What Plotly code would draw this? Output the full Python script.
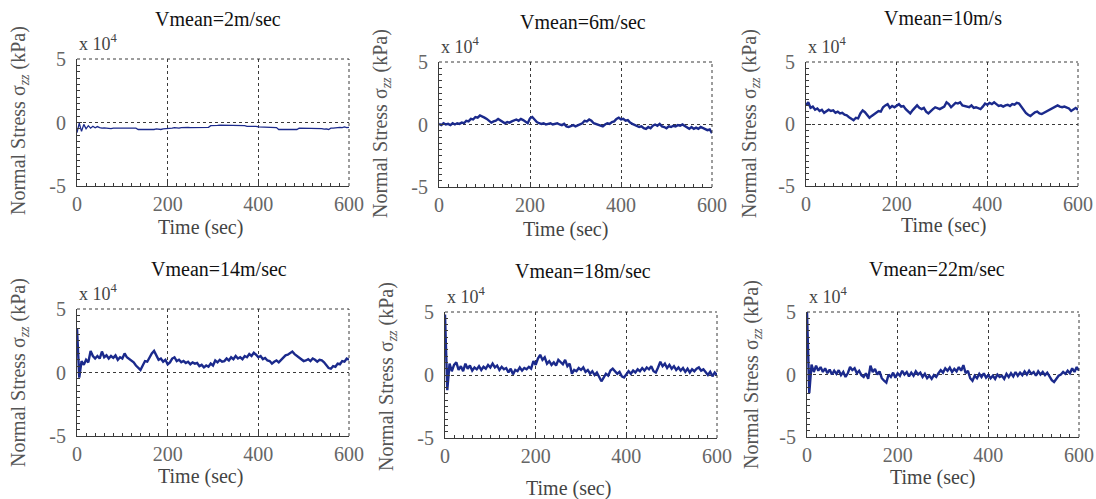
import plotly.graph_objects as go

# time grid (sec), every 5 s
time_s = list(range(0, 601, 5))

titles = ["Vmean=2m/sec", "Vmean=6m/sec", "Vmean=10m/s",
          "Vmean=14m/sec", "Vmean=18m/sec", "Vmean=22m/sec"]

# Normal stress, units of 1e4 kPa
v2 = [-0.8, -0.05, -0.7, -0.15, -0.5, -0.25, -0.45, -0.3, -0.42, -0.32,
      -0.4, -0.45, -0.42, -0.45, -0.45, -0.48, -0.45, -0.45, -0.47, -0.45, -0.46, -0.45, -0.45, -0.47, -0.45, -0.46, -0.45,
      -0.55, -0.55, -0.56, -0.55, -0.55, -0.55, -0.56, -0.55, -0.5, -0.52, -0.55, -0.5, -0.5,
      -0.45, -0.45, -0.45, -0.4, -0.45, -0.45, -0.4,
      -0.38, -0.4, -0.38, -0.4, -0.4, -0.38, -0.38, -0.4, -0.4, -0.38, -0.38, -0.38,
      -0.25, -0.22, -0.22, -0.22, -0.2, -0.2, -0.2, -0.2, -0.2, -0.2, -0.2, -0.22, -0.22, -0.2, -0.22, -0.25,
      -0.3, -0.3, -0.28, -0.3, -0.3,
      -0.35, -0.35, -0.38, -0.4, -0.38, -0.38, -0.4, -0.4, -0.4,
      -0.55, -0.55, -0.55, -0.55, -0.55, -0.55, -0.55, -0.55, -0.55,
      -0.45, -0.45, -0.45, -0.45, -0.45, -0.45, -0.45, -0.45, -0.45, -0.45,
      -0.48, -0.52, -0.5, -0.55, -0.45, -0.45,
      -0.4, -0.4, -0.38, -0.4, -0.35, -0.4, -0.38]

v6 = [0.05, -0.05, 0.1, 0.0, 0.05, -0.05, 0.1, 0.0, 0.1, 0.05,
      0.15, 0.1, 0.3, 0.25, 0.45, 0.4, 0.6, 0.55, 0.72, 0.6,
      0.55, 0.45, 0.3, 0.15, 0.25, 0.3, 0.45, 0.35, 0.2, 0.1,
      0.2, 0.15, 0.25, 0.3, 0.4, 0.3, 0.45, 0.35, 0.2, 0.1,
      0.5, 0.6, 0.4, 0.2, 0.1, 0.05, 0.1, 0.0, 0.05, 0.1,
      0.0, 0.05, 0.1, 0.0, -0.05, 0.05, -0.15, -0.2, -0.1, -0.05,
      -0.15, -0.05, 0.05, 0.1, 0.3, 0.25, 0.4, 0.3, 0.1, 0.05,
      -0.05, -0.1, -0.15, 0.0, 0.1, 0.05, 0.2, 0.25, 0.45, 0.55,
      0.4, 0.45, 0.3, 0.35, 0.15, 0.05, -0.05, -0.1, -0.2, -0.15,
      -0.3, -0.35, -0.2, -0.3, -0.1, 0.0, -0.1, 0.05, -0.15, -0.2,
      -0.3, -0.15, -0.2, -0.1, -0.15, -0.05, -0.1, 0.0, -0.1, -0.25,
      -0.35, -0.2, -0.35, -0.25, -0.35, -0.2, -0.3, -0.35, -0.45, -0.4,
      -0.7]

v10 = [1.5, 1.75, 1.3, 1.4, 1.15, 1.25, 1.05, 1.15, 0.9, 1.0,
       1.15, 1.05, 1.1, 0.9, 1.0, 0.85, 0.9, 0.75, 0.7, 0.55,
       0.45, 0.3, 0.5, 0.45, 0.85, 1.1, 0.95, 0.7, 0.5, 0.65,
       0.8, 0.9, 1.05, 1.0, 1.35, 1.5, 1.6, 1.3, 1.45, 1.35,
       1.5, 1.6, 1.4, 1.45, 1.2, 1.0, 0.85, 1.1, 1.3, 1.5,
       1.3, 1.2, 1.3, 1.0, 0.85, 1.05, 1.2, 1.35, 1.3, 1.2,
       1.3, 1.4, 1.75, 1.6, 1.35, 1.55, 1.7, 1.65, 1.75, 1.5,
       1.45, 1.4, 1.35, 1.5, 1.3, 1.35, 1.25, 1.2, 1.4, 1.65,
       1.55, 1.7, 1.6, 1.75, 1.6, 1.45, 1.5, 1.4, 1.5, 1.55,
       1.45, 1.6, 1.55, 1.7, 1.65, 1.4, 1.1, 0.9, 0.75, 0.65,
       0.8, 0.95, 1.0, 0.85, 0.8, 0.9, 1.05, 1.15, 1.2, 1.35,
       1.45, 1.5, 1.4, 1.35, 1.4, 1.3, 1.25, 1.05, 1.2, 1.3,
       1.15]

v14 = [3.5, -0.4, 0.9, 0.6, 1.0, 0.8, 1.7, 1.3, 1.1, 1.3,
       1.1, 1.65, 1.2, 1.35, 1.1, 1.3, 1.15, 1.35, 1.0, 1.2,
       1.1, 1.5, 1.2, 1.05, 0.9, 0.8, 0.55, 0.4, 0.2, 0.55,
       0.9, 0.85, 1.2, 1.5, 1.7, 1.3, 1.0, 1.1, 0.85, 1.0,
       0.65, 0.8, 1.1, 1.2, 0.9, 1.0, 0.8, 0.9, 0.75, 0.85,
       0.65, 0.8, 0.7, 0.75, 0.5, 0.6, 0.4, 0.55, 0.45, 0.7,
       0.55, 0.95, 0.8, 1.0, 0.85, 0.9, 1.1, 0.95, 1.2, 1.05,
       1.3, 1.1, 1.2, 1.05, 1.3, 1.2, 1.45, 1.3, 1.55, 1.4,
       1.2, 1.3, 1.05, 1.15, 0.95, 0.9, 0.7, 0.85, 0.95, 0.8,
       1.0, 1.2, 1.35, 1.4, 1.5, 1.65, 1.45, 1.3, 1.2, 1.05,
       0.9, 0.95, 1.05, 0.9, 1.1, 1.0, 0.85, 1.0, 0.95, 0.8,
       0.6, 0.35, 0.3, 0.5, 0.45, 0.7, 0.65, 0.9, 0.85, 1.1,
       1.0]

v18 = [4.8, -1.2, 0.9, 0.3, 0.8, 1.0, 0.4, 0.7, 0.3, 0.9,
       0.5, 0.75, 0.35, 0.6, 0.45, 0.7, 0.4, 0.65, 0.5, 0.8,
       0.6, 0.9, 0.6, 0.75, 0.4, 0.65, 0.45, 0.55, 0.2, 0.5,
       0.05, 0.4, 0.3, 0.6, 0.35, 0.55, 0.45, 0.65, 0.5, 1.1,
       0.8, 1.3, 1.6, 1.2, 1.4, 0.9, 1.1, 0.8, 1.0, 0.75,
       1.2, 1.05, 0.85, 1.2, 0.7, 0.9, 0.1, 0.4, 0.3, 0.55,
       0.4, 0.6, 0.25, 0.4, 0.1, 0.3, 0.0, 0.2, -0.1, -0.5,
       -0.2, 0.1, -0.05, 0.35, 0.5, 0.3, 0.1, 0.25, -0.1, -0.2,
       0.05, 0.3, 0.1, 0.35, 0.2, 0.45, 0.3, 0.55, 0.35, 0.6,
       0.45, 0.7, 0.3, 0.2, 0.6, 1.05, 0.7, 0.9, 0.55, 0.8,
       0.5, 0.7, 0.4, 0.6, 0.35, 0.55, 0.25, 0.5, 0.2, 0.45,
       0.3, 0.5, 0.6, 0.35, 0.45, 0.2, 0.0, 0.25, -0.1, 0.2,
       0.0]

v22 = [5.0, -1.5, 0.8, 0.2, 0.7, 0.3, 0.6, 0.2, 0.5, 0.1,
       0.4, 0.0, 0.3, 0.05, 0.35, -0.05, 0.2, -0.2, 0.1, 0.6,
       0.35, 0.5, 0.1, 0.3, -0.05, -0.2, 0.1, -0.35, 0.7, 0.2,
       0.45, 0.0, 0.25, -0.3, -0.5, -0.65, 0.0, -0.2, 0.15, -0.25,
       0.1, -0.1, 0.3, 0.0, 0.2, -0.15, 0.15, -0.1, 0.25, 0.0,
       0.15, -0.2, 0.05, -0.3, -0.1, -0.35, -0.05, -0.2, 0.1, 0.35,
       0.15, 0.5, 0.3, 0.55, 0.2, 0.45, 0.25, 0.6, 0.3, 0.75,
       0.1, 0.3, -0.3, -0.5, -0.1, -0.3, 0.05, -0.2, 0.1, -0.25,
       -0.05, -0.3, -0.1, -0.35, 0.0, -0.2, -0.1, -0.35, 0.05, -0.2,
       0.1, -0.15, 0.2, -0.1, 0.15, -0.05, 0.25, 0.0, 0.3, 0.05,
       0.2, -0.1, 0.25, 0.0, 0.2, -0.05, 0.15, -0.2, -0.45, -0.6,
       -0.3, -0.1, 0.0, 0.2, 0.05, 0.3, 0.1, 0.5, 0.2, 0.6,
       0.3]

series = [v2, v6, v10, v14, v18, v22]
for s in series:
    assert len(s) == len(time_s), len(s)

x_ticks = [0, 200, 400, 600]
x_ticktext = ["0", "200", "400", "600"]
y_ticks = [-5, 0, 5]
y_ticktext = ["-5", "0", "5"]

W, H = 1096, 499
# plot-area boxes in window pixels: (left, right, top, bottom)
boxes = [(77, 349, 59, 186), (439, 712, 62, 187), (806, 1078, 62, 186),
         (77, 349, 309, 436), (445, 717, 312, 438), (807, 1079, 312, 437)]
title_pos = [(218, 19), (583, 22), (943, 18), (219, 269), (583, 271), (937, 269)]
xlabel_pos = [(200, 227), (565, 229), (943, 225), (200, 476), (568, 488), (932, 477)]
ylabel_pos = [(19, 121), (381, 124), (750, 124), (19, 373), (387, 377), (752, 375)]

def px(x):
    return x / W

def py(y):
    return 1 - y / H

FONT = "Liberation Serif"
LINE = "#1b2a8c"
AX = "#3a3a3a"
DASH = "3px,3px"

fig = go.Figure()
annotations = []
shapes = []
layout = {}
for i, (vals, box) in enumerate(zip(series, boxes)):
    n = i + 1
    sfx = "" if n == 1 else str(n)
    l, r, t, b = box
    fig.add_trace(go.Scatter(
        x=time_s, y=vals, mode="lines",
        line=dict(color=LINE, width=1.3 if i == 0 else 2.4),
        xaxis=f"x{sfx}", yaxis=f"y{sfx}", showlegend=False, hoverinfo="skip",
    ))
    layout[f"xaxis{sfx}"] = dict(
        domain=[px(l), px(r)], anchor=f"y{sfx}", range=[0, 600],
        tickvals=x_ticks, ticktext=x_ticktext, ticks="inside", ticklen=5, tickcolor=AX,
        showline=True, linecolor=AX, linewidth=1,
        showgrid=True, gridcolor=AX, griddash=DASH, gridwidth=1,
        zeroline=False,
        minor=dict(ticks="inside", ticklen=3, dtick=20, tickcolor=AX, showgrid=False),
        tickfont=dict(family=FONT, size=20, color="#666666"),
    )
    layout[f"yaxis{sfx}"] = dict(
        domain=[py(b), py(t)], anchor=f"x{sfx}", range=[-5, 5],
        tickvals=y_ticks, ticktext=y_ticktext, ticks="inside", ticklen=5, tickcolor=AX,
        showline=True, linecolor=AX, linewidth=1,
        showgrid=True, gridcolor=AX, griddash=DASH, gridwidth=1,
        zeroline=False,
        minor=dict(ticks="inside", ticklen=3, dtick=0.5, tickcolor=AX, showgrid=False),
        tickfont=dict(family=FONT, size=20, color="#666666"),
        ticklabelstandoff=6,
    )
    # dashed top and right borders of each box
    shapes.append(dict(type="line", xref=f"x{sfx} domain", yref=f"y{sfx} domain",
                       x0=0, x1=1, y0=1, y1=1, line=dict(color=AX, width=1, dash=DASH)))
    shapes.append(dict(type="line", xref=f"x{sfx} domain", yref=f"y{sfx} domain",
                       x0=1, x1=1, y0=0, y1=1, line=dict(color=AX, width=1, dash=DASH)))
    tx, ty = title_pos[i]
    annotations.append(dict(text=titles[i], x=px(tx), y=py(ty), xref="paper", yref="paper",
                            showarrow=False, xanchor="center", yanchor="middle",
                            font=dict(family=FONT, size=20, color="#111111")))
    xx, xy = xlabel_pos[i]
    annotations.append(dict(text="Time (sec)", x=px(xx), y=py(xy), xref="paper", yref="paper",
                            showarrow=False, xanchor="center", yanchor="middle",
                            font=dict(family=FONT, size=20, color="#444444")))
    yx, yy = ylabel_pos[i]
    annotations.append(dict(text="Normal Stress σ<sub><i>zz</i></sub> (kPa)", x=px(yx), y=py(yy),
                            xref="paper", yref="paper", textangle=-90,
                            showarrow=False, xanchor="center", yanchor="middle",
                            font=dict(family=FONT, size=20, color="#555555")))
    annotations.append(dict(text="x 10<sup>4</sup>", x=px(l), y=py(t - 3), xref="paper", yref="paper",
                            showarrow=False, xanchor="left", yanchor="bottom",
                            font=dict(family=FONT, size=18, color="#444444")))

fig.update_layout(
    width=W, height=H, margin=dict(l=0, r=0, t=0, b=0, autoexpand=False),
    paper_bgcolor="white", plot_bgcolor="white", hovermode=False,
    annotations=annotations, shapes=shapes, **layout,
)
fig.write_html(
    "out.html",
    config={"displayModeBar": False},
    post_script="document.body.style.margin='0px'; document.body.style.overflow='hidden';",
)
